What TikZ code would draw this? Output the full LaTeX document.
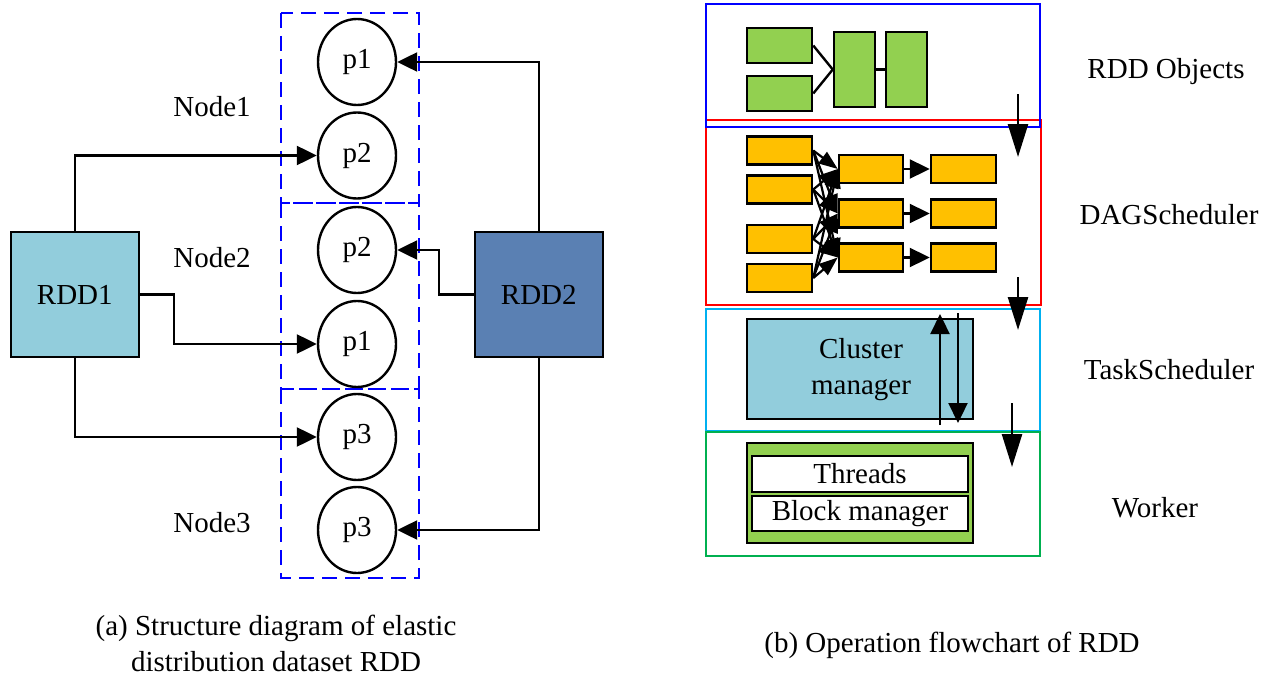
\documentclass[tikz,border=0pt]{standalone}
\usepackage{fontspec}
\setmainfont{Liberation Serif}
\usetikzlibrary{arrows.meta,shapes.geometric}

\definecolor{rddlight}{HTML}{92CDDC}
\definecolor{rdddark}{HTML}{5A80B3}
\definecolor{objgreen}{HTML}{92D050}
\definecolor{dagorange}{HTML}{FFC000}
\definecolor{taskcyan}{HTML}{00B0F0}
\definecolor{workgreen}{HTML}{00B050}

\tikzset{
  txt/.style={font=\fontsize{29}{36}\selectfont, inner sep=0pt},
  part/.style={ellipse, draw, line width=2.4pt, minimum width=78pt, minimum height=86pt, inner sep=0pt, txt},
  rddbox/.style={rectangle, draw, line width=2.5pt, minimum width=128pt, minimum height=125pt, txt},
  blk/.style={rectangle, draw, line width=2.5pt, inner sep=0pt},
  arr/.style={-{Triangle[length=20pt,width=19pt]}, line width=2.3pt},
  fan/.style={-{Triangle[length=19pt,width=14pt]}, line width=2.2pt},
  bigarr/.style={-{Triangle[length=33pt,width=20pt]}, line width=2.6pt},
  nodebox/.style={draw=blue, dashed, dash pattern=on 15pt off 8pt, line width=2.5pt},
}

\begin{document}
\begin{tikzpicture}[x=1pt,y=-1pt]
\useasboundingbox (0,0) rectangle (1268,677);

% ---------- (a) partitions of two RDDs over three nodes ----------
\draw[nodebox] (281,13) rectangle (419,203);
\draw[nodebox] (281,203) rectangle (419,389);
\draw[nodebox] (281,389) rectangle (419,578);

\node[part] (n1p1) at (357,62) {p1};
\node[part] (n1p2) at (357,155.5) {p2};
\node[part] (n2p2) at (357,250) {p2};
\node[part] (n2p1) at (357,344) {p1};
\node[part] (n3p3) at (357,437) {p3};
\node[part] (n3q3) at (357,530) {p3};

\node[txt] (lab1) at (212,107) {Node1};
\node[txt] (lab2) at (212,258) {Node2};
\node[txt] (lab3) at (212,523) {Node3};

\node[rddbox, fill=rddlight] (rdd1) at (74.8,294.5) {RDD1};
\node[rddbox, fill=rdddark] (rdd2) at (538.8,294.5) {RDD2};

\draw[arr] (rdd1.north) |- (n1p2.west);
\draw[arr] (rdd1.east) -- ++(34,0) |- (n2p1.west);
\draw[arr] (rdd1.south) |- (n3p3.west);
\draw[arr] (rdd2.north) |- (n1p1.east);
\draw[arr] (rdd2.west) -- ++(-34.5,0) |- (n2p2.east);
\draw[arr] (rdd2.south) |- (n3q3.east);

\node[txt] (capa1) at (276,628) {(a) Structure diagram of elastic};
\node[txt] (capa2) at (276,662) {distribution dataset RDD};

% ---------- (b) stages of an RDD job ----------
\draw[red, line width=2pt] (706,120) rectangle (1041,305);
\draw[blue, line width=2pt] (706,4) rectangle (1040,127);
\draw[taskcyan, line width=2pt] (706,309) rectangle (1040,431);
\draw[workgreen, line width=2pt] (706,432) rectangle (1040,556);

% RDD objects
\node[blk, fill=objgreen, minimum width=65pt, minimum height=35pt] (o1) at (779.5,45.5) {};
\node[blk, fill=objgreen, minimum width=65pt, minimum height=35pt] (o2) at (779.5,93.5) {};
\node[blk, fill=objgreen, minimum width=41pt, minimum height=75pt] (o3) at (854.5,69.5) {};
\node[blk, fill=objgreen, minimum width=41pt, minimum height=75pt] (o4) at (906.5,69.5) {};
\draw[line width=2.4pt] (o1.east) -- (o3.west);
\draw[line width=2.4pt] (o2.east) -- (o3.west);
\draw[line width=2.4pt] (o3.east) -- (o4.west);

% DAG scheduler stages
\foreach \i/\y in {1/150.5, 2/189.5, 3/239, 4/278}
  \node[blk, fill=dagorange, minimum width=65pt, minimum height=28pt] (l\i) at (779.5,\y) {};
\foreach \i/\y in {1/169, 2/213.5, 3/257.5}{
  \node[blk, fill=dagorange, minimum width=64pt, minimum height=28pt] (m\i) at (871,\y) {};
  \node[blk, fill=dagorange, minimum width=65pt, minimum height=28pt] (r\i) at (963.5,\y) {};
  \draw[arr] (m\i.east) -- (r\i.west);
}
\foreach \i in {1,...,4}
  \foreach \j in {1,2,3}
    \draw[fan] (l\i.east) -- (m\j.west);

% Task scheduler
\node[blk, fill=rddlight, minimum width=226pt, minimum height=100pt] (cm) at (860,369) {};
\node[txt, align=center] (cmt) at (861,370) {Cluster\\manager};
\coordinate (upa) at (940,425);
\coordinate (upb) at (940,314);
\coordinate (dna) at (958,313);
\coordinate (dnb) at (958,423);
\draw[arr] (upa) -- (upb);
\draw[arr] (dna) -- (dnb);

% Worker
\node[blk, fill=objgreen, minimum width=226pt, minimum height=100pt] (wk) at (860,493) {};
\node[blk, fill=white, minimum width=216pt, minimum height=36pt, txt] (thr) at (860,474) {Threads};
\node[blk, fill=white, minimum width=216pt, minimum height=35pt, txt] (bm) at (860,513.5) {Block manager};

% stage-to-stage arrows
\coordinate (s1a) at (1018,94);
\coordinate (s1b) at (1018,157);
\coordinate (s2a) at (1018,277);
\coordinate (s2b) at (1018,330);
\coordinate (s3a) at (1012,403);
\coordinate (s3b) at (1012,467);
\draw[bigarr] (s1a) -- (s1b);
\draw[bigarr] (s2a) -- (s2b);
\draw[bigarr] (s3a) -- (s3b);

% stage names
\node[txt] (t1) at (1166,72) {RDD Objects};
\node[txt] (t2) at (1169,215) {DAGScheduler};
\node[txt] (t3) at (1169,370) {TaskScheduler};
\node[txt] (t4) at (1155,508) {Worker};

\node[txt] (capb) at (952,645) {(b) Operation flowchart of RDD};
\end{tikzpicture}
\end{document}
